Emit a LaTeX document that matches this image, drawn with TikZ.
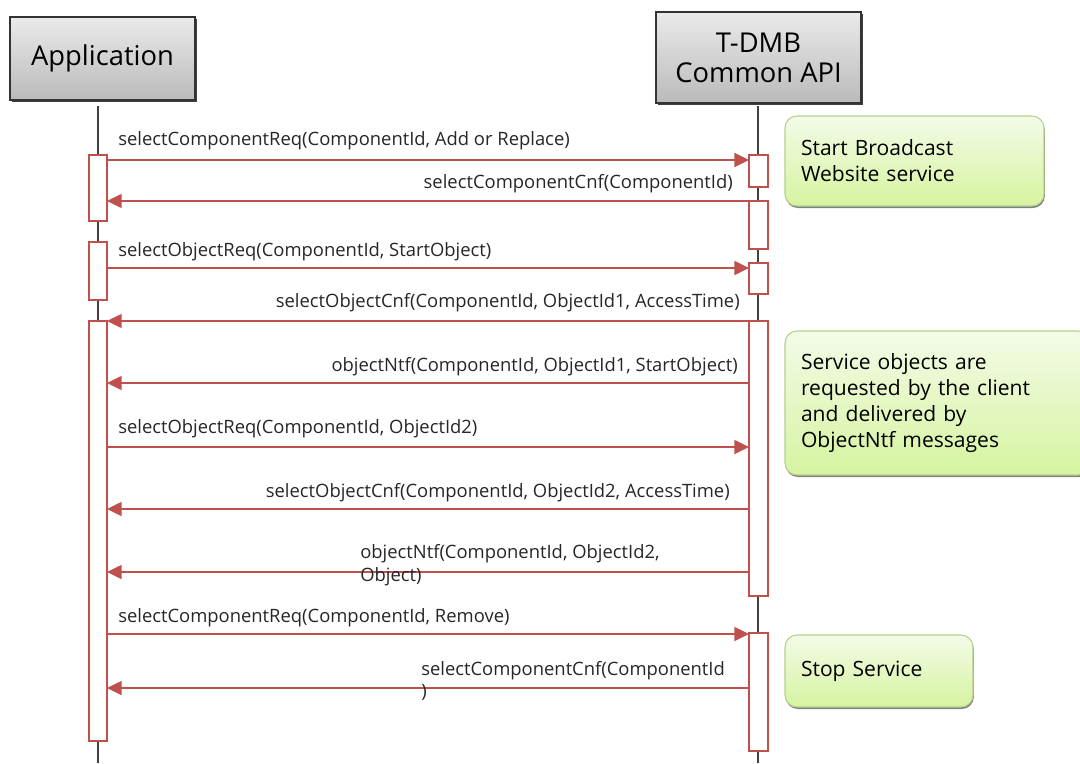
\documentclass[tikz,border=0pt]{standalone}
\usepackage{fontspec}
\setmainfont{Open Sans}
\usetikzlibrary{arrows.meta,shadows,fit,calc}
\definecolor{msgred}{HTML}{C0504D}
\definecolor{lifegray}{HTML}{404040}
\definecolor{notetop}{HTML}{F3FBE8}
\definecolor{notebot}{HTML}{D6F4A0}
\definecolor{noteedge}{HTML}{B5D08A}
\begin{document}
\begin{tikzpicture}[x=0.75pt,y=-0.75pt,
  head/.style={draw=black!80, line width=0.8pt, top color=black!8, bottom color=black!27,
    drop shadow={shadow xshift=1.2pt, shadow yshift=-1.5pt, fill=black!75, opacity=1},
    font=\fontsize{20.5}{22.5}\selectfont, align=center, inner sep=0pt},
  lifeline/.style={draw=lifegray, line width=1.1pt},
  act/.style={draw=msgred, line width=1.4pt, fill=white, inner sep=0pt},
  msg/.style={draw=msgred, line width=1.1pt, -{Triangle[length=11pt,width=10.5pt]}},
  lbl/.style={font=\fontsize{13.8}{17}\selectfont, text=black!85, inner sep=0pt, align=left},
  note/.style={rounded corners=9pt, draw=noteedge, line width=0.8pt,
    top color=notetop, bottom color=notebot,
    drop shadow={shadow xshift=0.6pt, shadow yshift=-1.5pt, fill=black!55, opacity=0.9},
    font=\fontsize{15.8}{19.5}\selectfont, align=left, inner xsep=12pt, inner ysep=0pt}
]
\useasboundingbox (0,0) rectangle (1080,763);

% participants
\node[head, minimum width=138.75pt, minimum height=62.25pt] (app) at (102.5,58.5) {Application};
\node[head, minimum width=153.75pt, minimum height=68.25pt] (api) at (758.5,57.5) {T-DMB\\Common API};

% lifelines
\coordinate (appTop) at (98,106);  \coordinate (appBot) at (98,763);
\coordinate (apiTop) at (758,106); \coordinate (apiBot) at (758,763);
\draw[lifeline] (appTop) -- (appBot);
\draw[lifeline] (apiTop) -- (apiBot);

% activation bars on Application
\node[act, fit={(89,155)(107,221)}] (a1) {};
\node[act, fit={(89,242)(107,300)}] (a2) {};
\node[act, fit={(89,321)(107,741)}] (a3) {};
% activation bars on T-DMB Common API
\node[act, fit={(749,155)(768,187)}] (b1) {};
\node[act, fit={(749,201)(768,249)}] (b2) {};
\node[act, fit={(749,263)(768,294)}] (b3) {};
\node[act, fit={(749,321)(768,596)}] (b4) {};
\node[act, fit={(749,633)(768,751)}] (b5) {};

% message end points
\coordinate (m1s) at (107,160); \coordinate (m1e) at (749,160);
\coordinate (m2s) at (749,201); \coordinate (m2e) at (107,201);
\coordinate (m3s) at (107,268); \coordinate (m3e) at (749,268);
\coordinate (m4s) at (749,321); \coordinate (m4e) at (107,321);
\coordinate (m5s) at (749,383); \coordinate (m5e) at (107,383);
\coordinate (m6s) at (107,447); \coordinate (m6e) at (749,447);
\coordinate (m7s) at (749,509); \coordinate (m7e) at (107,509);
\coordinate (m8s) at (749,572); \coordinate (m8e) at (107,572);
\coordinate (m9s) at (107,634); \coordinate (m9e) at (749,634);
\coordinate (m10s) at (749,688); \coordinate (m10e) at (107,688);

\draw[msg] (m1s) -- (m1e);
\draw[msg] (m2s) -- (m2e);
\draw[msg] (m3s) -- (m3e);
\draw[msg] (m4s) -- (m4e);
\draw[msg] (m5s) -- (m5e);
\draw[msg] (m6s) -- (m6e);
\draw[msg] (m7s) -- (m7e);
\draw[msg] (m8s) -- (m8e);
\draw[msg] (m9s) -- (m9e);
\draw[msg] (m10s) -- (m10e);

% message labels
\node[lbl, anchor=west] (l1) at (118,141) {selectComponentReq(ComponentId, Add or Replace)};
\node[lbl, anchor=east] (l2) at (733,184) {selectComponentCnf(ComponentId)};
\node[lbl, anchor=west] (l3) at (118,252) {selectObjectReq(ComponentId, StartObject)};
\node[lbl, anchor=east] (l4) at (740,303) {selectObjectCnf(ComponentId, ObjectId1, AccessTime)};
\node[lbl, anchor=east] (l5) at (738,367) {objectNtf(ComponentId, ObjectId1, StartObject)};
\node[lbl, anchor=west] (l6) at (118,429) {selectObjectReq(ComponentId, ObjectId2)};
\node[lbl, anchor=east] (l7) at (730,493) {selectObjectCnf(ComponentId, ObjectId2, AccessTime)};
\node[lbl, anchor=west] (l8) at (360,565) {objectNtf(ComponentId, ObjectId2,\\Object)};
\node[lbl, anchor=west] (l9) at (118,618) {selectComponentReq(ComponentId, Remove)};
\node[lbl, anchor=west] (l10) at (421,681) {selectComponentCnf(ComponentId\\)};

% notes
\node[note, minimum width=194.25pt, minimum height=67.5pt, text width=170.25pt] (n1) at (914.5,161) {Start Broadcast\\Website service};
\node[note, minimum width=228.75pt, minimum height=108pt, text width=204.75pt] (n2) at (937.5,403) {Service objects are\\requested by the client\\and delivered by\\ObjectNtf messages};
\node[note, minimum width=141pt, minimum height=54pt, text width=117pt] (n3) at (879,671) {Stop Service};
\end{tikzpicture}
\end{document}
